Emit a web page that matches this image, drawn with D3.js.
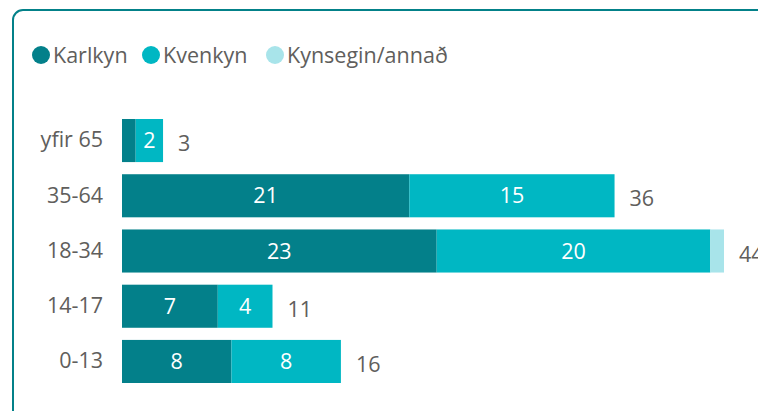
<!DOCTYPE html>
<html><head><meta charset="utf-8">
<script src="https://cdn.jsdelivr.net/npm/d3@7"></script>
<style>html,body{margin:0;padding:0;background:#fff;overflow:hidden}</style>
</head><body><svg id="c" width="758" height="411"></svg>
<script>
const categories = ["yfir 65", "35-64", "18-34", "14-17", "0-13"];
const seriesNames = ["Karlkyn", "Kvenkyn", "Kynsegin/annað"];
const karlkyn = [1, 21, 23, 7, 8];
const kvenkyn = [2, 15, 20, 4, 8];
const kynsegin = [0, 0, 1, 0, 0];
const colors = ["#03808A", "#00B7C3", "#A8E4EA"];

const font = "'Open Sans', 'Noto Sans', sans-serif";
const fs = 21.5;
const svg = d3.select("#c");

// frame
svg.append("rect").attr("x", 13).attr("y", 10).attr("width", 800).attr("height", 450)
  .attr("rx", 10).attr("fill", "none").attr("stroke", "#038189").attr("stroke-width", 2);

const rows = categories.map((c, i) => ({cat: c, Karlkyn: karlkyn[i], Kvenkyn: kvenkyn[i], "Kynsegin/annað": kynsegin[i]}));
const stack = d3.stack().keys(seriesNames)(rows);

const y = d3.scaleBand().domain(categories).range([119, 383]).paddingInner(0.22).paddingOuter(0);
const x = d3.scaleLinear().domain([0, 44]).range([122, 724]);
const color = d3.scaleOrdinal().domain(seriesNames).range(colors);

// legend
const legendX = [41, 151, 275];
const lg = svg.append("g");
seriesNames.forEach((s, i) => {
  lg.append("circle").attr("cx", legendX[i]).attr("cy", 55).attr("r", 9).attr("fill", color(s));
  lg.append("text").attr("x", legendX[i] + 12).attr("y", 55).attr("dy", "0.35em")
    .attr("font-family", font).attr("font-size", fs).attr("fill", "#605E5C").text(s);
});

// y axis labels
const yAxis = d3.axisLeft(y).tickSize(0).tickPadding(0);
const ya = svg.append("g").attr("transform", "translate(103,0)").call(yAxis);
ya.select(".domain").remove();
ya.selectAll("text").attr("font-family", font).attr("font-size", fs).attr("fill", "#605E5C");

// bars
const g = svg.append("g");
stack.forEach(layer => {
  layer.forEach((d, i) => {
    const w = x(d[1]) - x(d[0]);
    if (w <= 0) return;
    g.append("rect").attr("x", x(d[0])).attr("y", y(categories[i]))
      .attr("width", w).attr("height", y.bandwidth()).attr("fill", color(layer.key));
    if (w > 20) {
      g.append("text").attr("x", (x(d[0]) + x(d[1])) / 2).attr("y", y(categories[i]) + y.bandwidth() / 2)
        .attr("dy", "0.35em").attr("text-anchor", "middle")
        .attr("font-family", font).attr("font-size", fs).attr("fill", "#fff")
        .text(d[1] - d[0]);
    }
  });
});

// totals
rows.forEach((r, i) => {
  const tot = karlkyn[i] + kvenkyn[i] + kynsegin[i];
  svg.append("text").attr("x", x(tot) + 15).attr("y", y(r.cat) + y.bandwidth() / 2 + 3)
    .attr("dy", "0.35em").attr("font-family", font).attr("font-size", fs).attr("fill", "#605E5C")
    .text(tot);
});
</script></body></html>
